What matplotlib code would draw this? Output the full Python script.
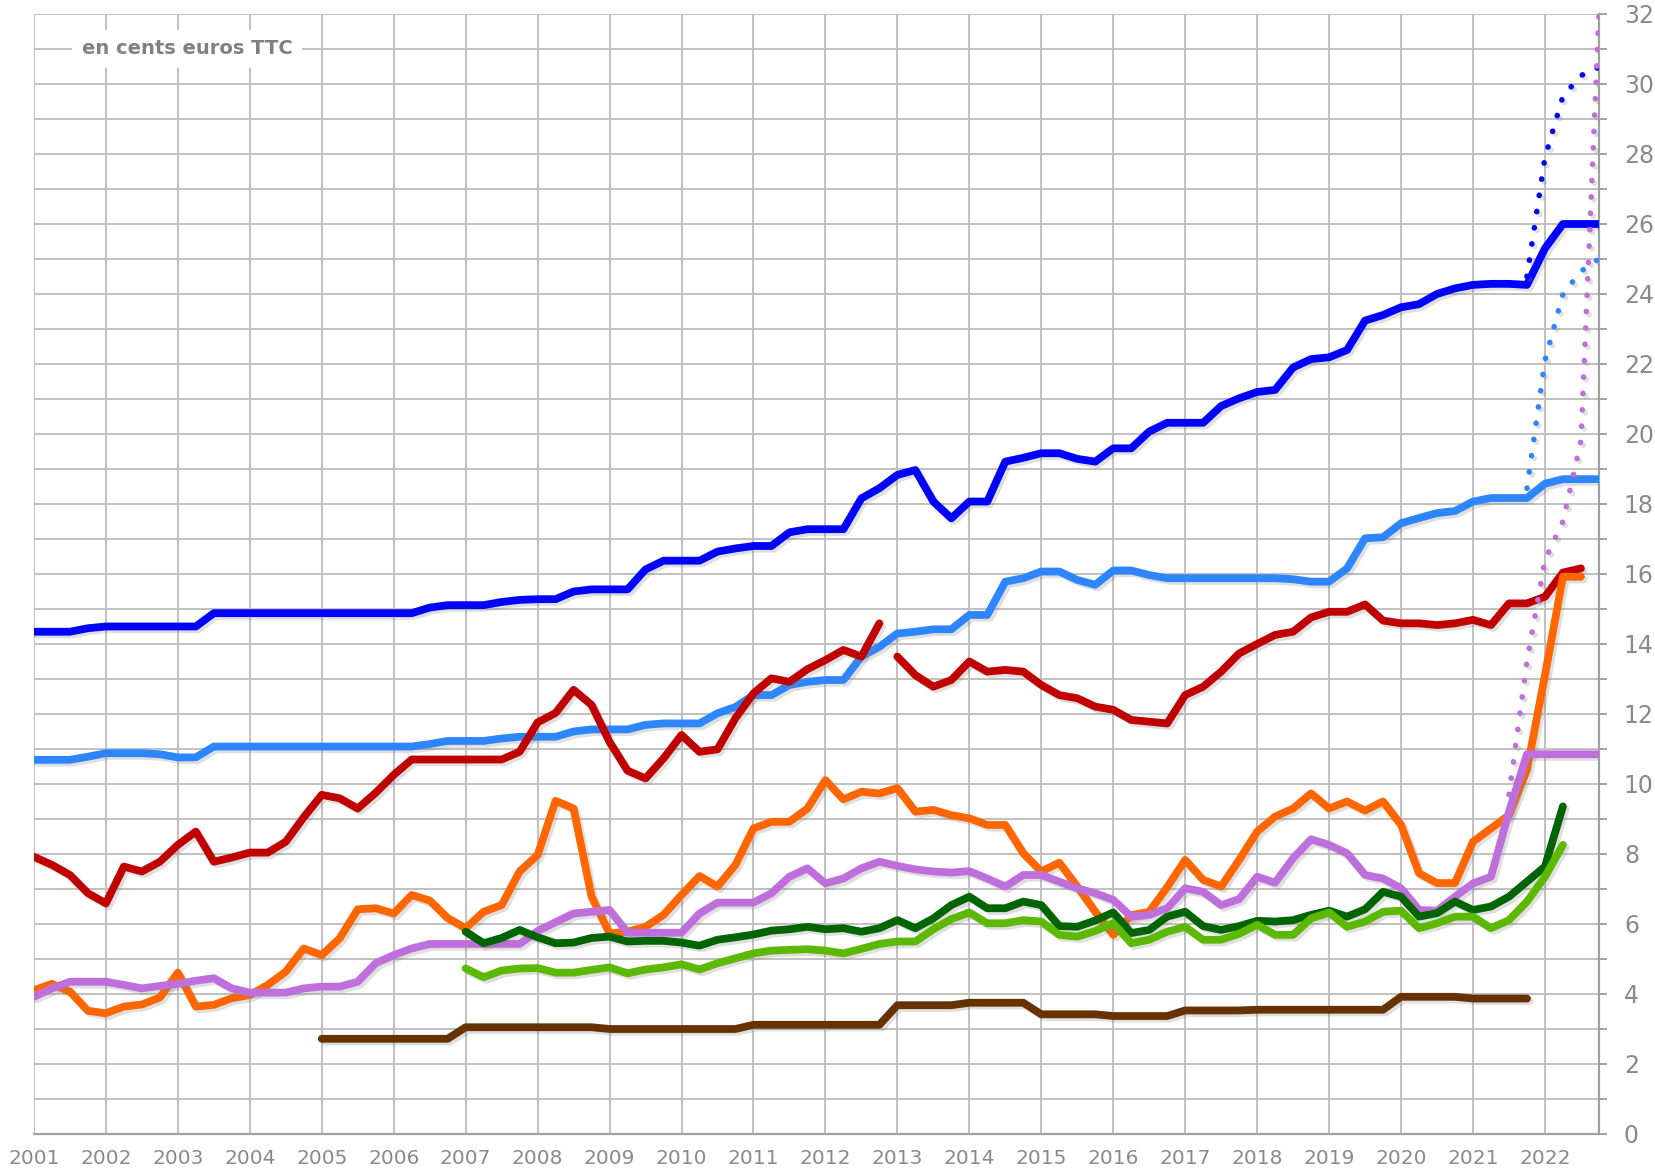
import numpy as np
import matplotlib.pyplot as plt
import matplotlib.patheffects as pe

# quarterly series, values in cents euros TTC
blue_start = 2001.0
blue = [14.35, 14.35, 14.35, 14.45, 14.5, 14.5, 14.5, 14.5, 14.5, 14.5, 14.88, 14.88,
        14.88, 14.88, 14.88, 14.88, 14.88, 14.88, 14.88, 14.88, 14.88, 14.88, 15.04, 15.11,
        15.11, 15.11, 15.2, 15.26, 15.28, 15.28, 15.5, 15.56, 15.56, 15.56, 16.13, 16.38,
        16.38, 16.38, 16.64, 16.73, 16.8, 16.8, 17.19, 17.28, 17.28, 17.28, 18.16, 18.45,
        18.83, 18.97, 18.07, 17.59, 18.07, 18.07, 19.21, 19.32, 19.45, 19.45, 19.29, 19.21,
        19.59, 19.59, 20.07, 20.32, 20.32, 20.32, 20.8, 21.02, 21.2, 21.26, 21.9, 22.14,
        22.19, 22.4, 23.24, 23.4, 23.62, 23.71, 24.0, 24.16, 24.26, 24.29, 24.29, 24.26,
        25.3, 26.0, 26.0, 26.0]

lightblue_start = 2001.0
lightblue = [10.69, 10.69, 10.69, 10.78, 10.88, 10.88, 10.88, 10.85, 10.76, 10.76, 11.07, 11.07,
             11.07, 11.07, 11.07, 11.07, 11.07, 11.07, 11.07, 11.07, 11.07, 11.07, 11.14, 11.23,
             11.23, 11.23, 11.3, 11.35, 11.35, 11.35, 11.5, 11.56, 11.56, 11.56, 11.69, 11.73,
             11.73, 11.73, 12.02, 12.2, 12.54, 12.54, 12.83, 12.92, 12.97, 12.97, 13.64, 13.92,
             14.3, 14.35, 14.42, 14.42, 14.83, 14.83, 15.78, 15.88, 16.07, 16.07, 15.83, 15.69,
             16.1, 16.1, 15.97, 15.88, 15.88, 15.88, 15.88, 15.88, 15.88, 15.88, 15.85, 15.78,
             15.78, 16.16, 17.02, 17.05, 17.45, 17.6, 17.74, 17.8, 18.07, 18.17, 18.17, 18.17,
             18.58, 18.71, 18.71, 18.71]

red1_start = 2001.0
red1 = [7.92, 7.69, 7.4, 6.88, 6.59, 7.64, 7.5, 7.78, 8.26, 8.64, 7.78, 7.9,
        8.04, 8.04, 8.35, 9.05, 9.69, 9.59, 9.3, 9.75, 10.26, 10.7, 10.7, 10.7,
        10.7, 10.7, 10.7, 10.92, 11.76, 12.03, 12.69, 12.26, 11.2, 10.38, 10.16, 10.73,
        11.4, 10.92, 10.99, 11.88, 12.59, 13.02, 12.92, 13.28, 13.54, 13.83, 13.64, 14.59]
red2_start = 2013.0
red2 = [13.64, 13.11, 12.78, 12.97, 13.5, 13.21, 13.26, 13.21, 12.83, 12.54, 12.45, 12.21,
        12.12, 11.83, 11.78, 11.73, 12.54, 12.78, 13.21, 13.73, 14.0, 14.26, 14.35, 14.76,
        14.92, 14.92, 15.13, 14.67, 14.59, 14.59, 14.54, 14.59, 14.69, 14.54, 15.16, 15.16,
        15.35, 16.04, 16.16]

orange_start = 2001.0
orange = [4.11, 4.29, 4.07, 3.52, 3.45, 3.64, 3.7, 3.9, 4.61, 3.64, 3.69, 3.88,
          3.97, 4.26, 4.64, 5.3, 5.11, 5.59, 6.42, 6.45, 6.3, 6.83, 6.67, 6.17,
          5.88, 6.35, 6.54, 7.5, 7.97, 9.52, 9.3, 6.78, 5.73, 5.78, 5.92, 6.26,
          6.83, 7.37, 7.07, 7.69, 8.73, 8.92, 8.92, 9.3, 10.11, 9.56, 9.78, 9.73,
          9.88, 9.21, 9.26, 9.11, 9.02, 8.83, 8.83, 8.02, 7.5, 7.75, 7.07, 6.35,
          5.69, 6.25, 6.35, 7.05, 7.83, 7.26, 7.07, 7.83, 8.64, 9.07, 9.3, 9.73,
          9.3, 9.5, 9.24, 9.5, 8.83, 7.45, 7.17, 7.17, 8.35, 8.73, 9.11, 10.4,
          13.1, 15.92, 15.92]

violet_start = 2001.0
violet = [3.92, 4.16, 4.35, 4.35, 4.35, 4.26, 4.16, 4.23, 4.29, 4.38, 4.45, 4.16,
          4.04, 4.04, 4.04, 4.16, 4.21, 4.21, 4.35, 4.88, 5.11, 5.3, 5.43, 5.43,
          5.43, 5.43, 5.43, 5.43, 5.8, 6.05, 6.3, 6.35, 6.4, 5.75, 5.75, 5.75,
          5.75, 6.3, 6.61, 6.61, 6.61, 6.88, 7.35, 7.59, 7.16, 7.3, 7.59, 7.78,
          7.66, 7.56, 7.5, 7.47, 7.51, 7.3, 7.07, 7.4, 7.4, 7.21, 7.02, 6.88,
          6.69, 6.21, 6.26, 6.45, 7.02, 6.92, 6.54, 6.71, 7.35, 7.18, 7.88, 8.42,
          8.26, 8.02, 7.4, 7.3, 7.02, 6.4, 6.38, 6.78, 7.16, 7.35, 9.2, 10.85,
          10.85, 10.85, 10.85, 10.85]

darkgreen_start = 2007.0
darkgreen = [5.78, 5.45, 5.6, 5.83, 5.62, 5.45, 5.47, 5.6, 5.64, 5.5, 5.52, 5.52,
             5.47, 5.38, 5.55, 5.62, 5.7, 5.81, 5.85, 5.92, 5.85, 5.88, 5.78, 5.88,
             6.11, 5.88, 6.16, 6.54, 6.78, 6.45, 6.45, 6.64, 6.54, 5.94, 5.92, 6.1,
             6.33, 5.74, 5.83, 6.21, 6.35, 5.94, 5.83, 5.94, 6.09, 6.07, 6.11, 6.26,
             6.38, 6.21, 6.42, 6.92, 6.78, 6.21, 6.31, 6.64, 6.4, 6.5, 6.78, 7.21,
             7.64, 9.36]

lightgreen_start = 2007.0
lightgreen = [4.73, 4.48, 4.67, 4.73, 4.74, 4.61, 4.61, 4.69, 4.76, 4.59, 4.7, 4.76,
              4.85, 4.7, 4.88, 5.02, 5.16, 5.24, 5.26, 5.28, 5.24, 5.16, 5.29, 5.43,
              5.5, 5.5, 5.85, 6.14, 6.33, 6.02, 6.02, 6.11, 6.07, 5.69, 5.64, 5.8,
              6.02, 5.45, 5.55, 5.78, 5.92, 5.55, 5.55, 5.72, 5.98, 5.69, 5.69, 6.16,
              6.33, 5.92, 6.07, 6.35, 6.38, 5.88, 6.02, 6.21, 6.21, 5.88, 6.11, 6.64,
              7.35, 8.26]

brown_start = 2005.0
brown = [2.72, 2.72, 2.72, 2.72, 2.72, 2.72, 2.72, 2.72, 3.05, 3.05, 3.05, 3.05,
         3.05, 3.05, 3.05, 3.05, 3.0, 3.0, 3.0, 3.0, 3.0, 3.0, 3.0, 3.0,
         3.12, 3.12, 3.12, 3.12, 3.12, 3.12, 3.12, 3.12, 3.68, 3.68, 3.68, 3.68,
         3.75, 3.75, 3.75, 3.75, 3.42, 3.42, 3.42, 3.42, 3.37, 3.37, 3.37, 3.37,
         3.53, 3.53, 3.53, 3.53, 3.55, 3.55, 3.55, 3.55, 3.55, 3.55, 3.55, 3.55,
         3.92, 3.92, 3.92, 3.92, 3.87, 3.87, 3.87, 3.87]

# dotted projections
blue_dot_start = 2021.75
blue_dot = [24.5, 27.9, 29.65, 30.24, 30.48]
lightblue_dot_start = 2021.75
lightblue_dot = [18.45, 22.1, 24.0, 24.65, 25.0]
violet_dot_start = 2021.5
violet_dot = [9.7, 13.5, 16.4, 17.5, 19.8, 32.0]

years = list(range(2001, 2023))


def quarters(start, vals):
    return start + 0.25 * np.arange(len(vals))


shadow = [pe.SimpleLineShadow(offset=(2, -2), shadow_color='gray', alpha=0.25), pe.Normal()]

fig = plt.figure(figsize=(16.55, 11.75), dpi=100)
ax = fig.add_axes([0.0205, 0.0349, 0.9456, 0.9532])

solid = [
    (blue_start, blue, '#0000ff'),
    (lightblue_start, lightblue, '#2e86ff'),
    (red1_start, red1, '#c00000'),
    (red2_start, red2, '#c00000'),
    (orange_start, orange, '#ff6600'),
    (violet_start, violet, '#bf6fdc'),
    (darkgreen_start, darkgreen, '#006400'),
    (lightgreen_start, lightgreen, '#5cb800'),
    (brown_start, brown, '#663300'),
]
for z, (start, vals, col) in enumerate(solid):
    ax.plot(quarters(start, vals), vals, color=col, lw=5.6, solid_capstyle='round',
            solid_joinstyle='round', path_effects=shadow, zorder=3 + z * 0.1)

dotted = [
    (blue_dot_start, blue_dot, '#0000ff'),
    (lightblue_dot_start, lightblue_dot, '#2e86ff'),
    (violet_dot_start, violet_dot, '#bf6fdc'),
]
for start, vals, col in dotted:
    ax.plot(quarters(start, vals), vals, color=col, lw=4.0, linestyle=(0, (0.05, 2.9)),
            dash_capstyle='round', path_effects=shadow, zorder=5)

ax.set_xlim(2001, 2022.75)
ax.set_ylim(0, 32)

ax.set_xticks(years)
ax.set_xticklabels([str(y) for y in years])
ax.set_yticks(range(0, 33))
ax.set_yticklabels([str(v) if v % 2 == 0 else '' for v in range(0, 33)])
ax.yaxis.tick_right()

ax.grid(True, color='#c0c0c0', lw=1.4)
ax.set_axisbelow(True)

ax.tick_params(axis='x', length=0, pad=11, labelsize=14.5, labelcolor='#8a8a8a')
ax.tick_params(axis='y', length=6, width=1.4, color='#a0a0a0', pad=12,
               labelsize=17, labelcolor='#8a8a8a')

for side in ['left', 'top']:
    ax.spines[side].set_visible(False)
for side in ['right', 'bottom']:
    ax.spines[side].set_color('#a0a0a0')
    ax.spines[side].set_linewidth(1.6)

ax.text(2003.13, 31.0, 'en cents euros TTC', ha='center', va='center', fontsize=14,
        fontweight='bold', color='#808080', zorder=6,
        bbox=dict(boxstyle='square,pad=0.5', facecolor='white', edgecolor='none'))

fig.savefig('out.png', dpi=100)
